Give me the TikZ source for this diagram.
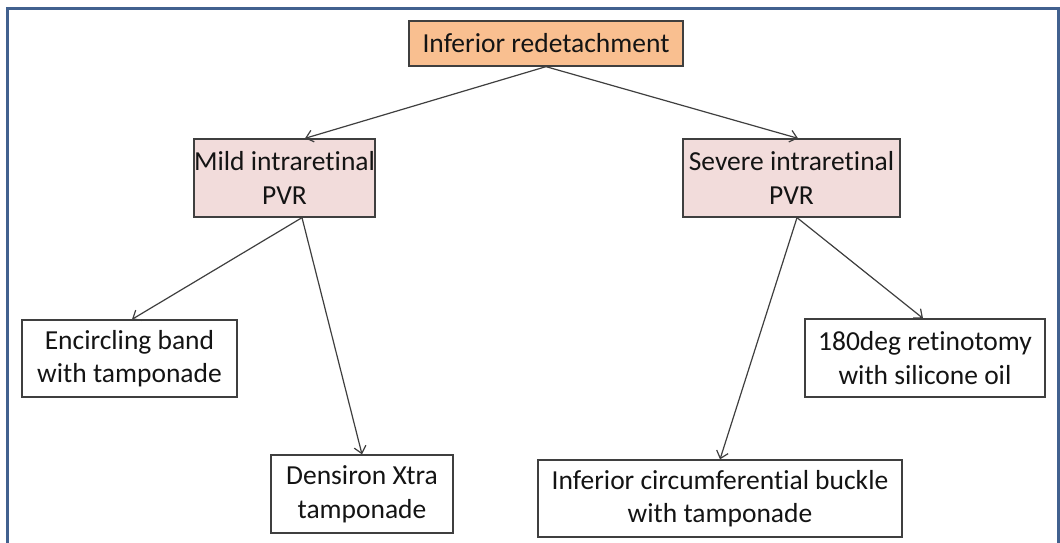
\documentclass[tikz,border=0pt]{standalone}
\usepackage{fontspec}
\setmainfont[Ligatures={NoCommon}]{Carlito}
\usetikzlibrary{arrows.meta,calc}

\definecolor{framecol}{HTML}{41618F}
\definecolor{rootfill}{HTML}{F9BF90}
\definecolor{pvrfill}{HTML}{F2DCDB}
\definecolor{edgecol}{HTML}{3F3F3F}
\definecolor{inkcol}{HTML}{141414}

\tikzset{
  box/.style={draw=edgecol, line width=1.3pt, fill=white, align=center,
    inner sep=0pt, text=inkcol,
    font=\fontsize{27.5}{33.5}\selectfont},
  rootbox/.style={box, fill=rootfill},
  pvrbox/.style={box, fill=pvrfill},
  link/.style={draw=edgecol, line width=1.2pt,
    -{Straight Barb[length=7pt,width=12pt,line width=1.2pt]}},
}

\begin{document}
\begin{tikzpicture}[x=1pt,y=-1pt]
  \useasboundingbox (0,0) rectangle (1060,543);
  \fill[white] (0,0) rectangle (1060,543);

  % outer frame, open at the bottom edge
  \draw[framecol, line width=3pt] (7,543) -- (7,9) -- (1058,9) -- (1058,543);

  % boxes
  \node[rootbox, minimum width=274pt, minimum height=45pt] (root) at (546,43.5)
    {Inferior redetachment};
  \node[pvrbox, minimum width=177pt, minimum height=78pt] (mild) at (284.5,178)
    {Mild intraretinal\\PVR};
  \node[pvrbox, minimum width=217pt, minimum height=78pt] (severe) at (791.5,178)
    {Severe intraretinal\\PVR};
  \node[box, minimum width=215pt, minimum height=77pt] (band) at (129.5,358.5)
    {Encircling band\\with tamponade};
  \node[box, minimum width=182pt, minimum height=78pt] (densiron) at (362,494)
    {Densiron Xtra\\tamponade};
  \node[box, minimum width=364pt, minimum height=77pt] (buckle) at (720,498.5)
    {Inferior circumferential buckle\\with tamponade};
  \node[box, minimum width=240pt, minimum height=78pt] (retino) at (925,358)
    {180deg retinotomy\\with silicone oil};

  % connectors
  \draw[link] (root.south) -- ($(mild.north)+(20.5,0)$);
  \draw[link] (root.south) -- ($(severe.north)+(6.5,0)$);
  \draw[link] ($(mild.south)+(17.5,0)$) -- ($(band.north)+(2.5,0)$);
  \draw[link] ($(mild.south)+(17.5,0)$) -- (densiron.north);
  \draw[link] ($(severe.south)+(5.5,0)$) -- (buckle.north);
  \draw[link] ($(severe.south)+(5.5,0)$) -- ($(retino.north)+(-2,0)$);
\end{tikzpicture}
\end{document}
